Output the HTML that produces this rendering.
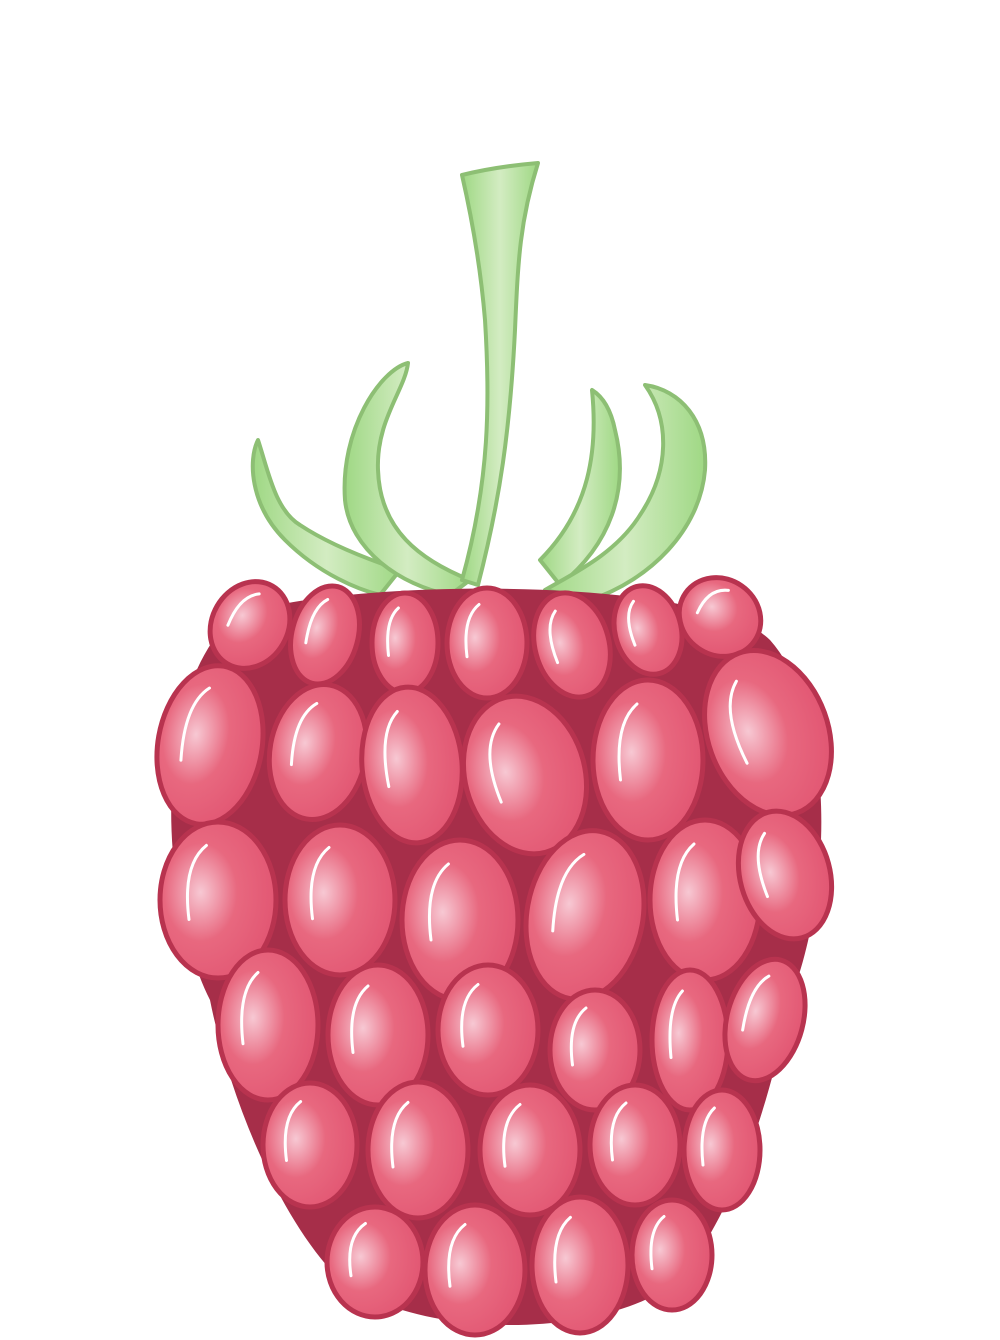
<!DOCTYPE html>
<html><head><meta charset="utf-8"><style>
html,body{margin:0;padding:0;background:#fff;width:1000px;height:1340px;overflow:hidden}
</style></head><body>
<svg width="1000" height="1340" viewBox="0 0 1000 1340">
<defs>
<radialGradient id="dg" cx="0.35" cy="0.45" r="0.7">
<stop offset="0" stop-color="#f7c8d3"/><stop offset="0.45" stop-color="#e8687f"/><stop offset="1" stop-color="#e15471"/>
</radialGradient>
<linearGradient id="gg" x1="0" y1="0" x2="1" y2="0">
<stop offset="0" stop-color="#9fd884"/><stop offset="0.5" stop-color="#d3ecc2"/><stop offset="1" stop-color="#9fd884"/>
</linearGradient>
</defs>
<g fill="url(#gg)" stroke="#8dbf74" stroke-width="4" stroke-linejoin="round">
<path d="M258,440 C248,460 250,505 285,540 C320,575 360,590 380,595 L400,570 C370,560 330,545 300,525 C275,510 268,470 258,440 Z"/>
<path d="M408,363 C380,370 340,430 345,500 C350,550 400,585 450,595 L470,580 C420,560 380,530 378,470 C376,420 405,390 408,363 Z"/>
<path d="M592,390 C598,450 590,510 540,560 L560,585 C610,545 630,490 615,430 C610,405 600,395 592,390 Z"/>
<path d="M645,385 C670,420 670,470 640,515 C615,555 570,575 545,590 L590,600 C650,580 700,530 705,470 C708,420 680,390 645,385 Z"/>
<path d="M462,175 C490,168 515,165 538,163 C520,220 518,260 515,330 C510,430 500,500 478,585 L462,580 C490,480 490,400 485,320 C480,260 470,210 462,175 Z"/>
</g>
<path d="M230,620 C300,580 700,570 770,640 C840,720 830,900 790,1000 C770,1100 740,1200 680,1280 C600,1340 420,1340 340,1280 C280,1220 230,1100 210,1000 C160,900 150,700 230,620 Z" fill="#a62e49"/>
<g id="drupes"></g>
</svg>
<script>
const drupeCx=[250,325,405,487,572,648,720,210,318,412,525,648,768,218,340,460,585,705,785,268,378,488,595,690,765,310,418,530,635,722,375,475,580,672];
const drupeCy=[625,635,643,643,645,630,617,745,752,765,775,760,733,900,900,920,915,900,875,1025,1035,1030,1050,1040,1020,1145,1150,1150,1145,1150,1262,1270,1265,1255];
const drupeRx=[38,33,33,40,37,33,42,52,48,50,60,55,60,58,55,58,58,55,45,50,50,50,45,38,38,47,50,50,45,38,48,50,48,40];
const drupeRy=[45,50,50,55,53,45,38,80,68,78,80,80,85,78,75,80,85,80,65,75,70,65,60,70,62,62,68,65,60,60,55,65,68,55];
const drupeRot=[30,15,0,0,-15,-15,35,10,10,-5,-15,0,-20,0,0,0,10,0,-15,0,0,0,0,0,15,0,0,0,0,0,0,0,0,0];
const g=document.getElementById('drupes');
const NS='http://www.w3.org/2000/svg';
for(let i=0;i<drupeCx.length;i++){
  const grp=document.createElementNS(NS,'g');
  
  
  grp.setAttribute('transform','translate('+drupeCx[i]+','+drupeCy[i]+') rotate('+drupeRot[i]+')');
  const e=document.createElementNS(NS,'ellipse');
  e.setAttribute('rx',drupeRx[i]);e.setAttribute('ry',drupeRy[i]);
  e.setAttribute('fill','url(#dg)');e.setAttribute('stroke','#b8334f');e.setAttribute('stroke-width','5');
  grp.appendChild(e);
  const h=document.createElementNS(NS,'path');
  const rx=drupeRx[i],ry=drupeRy[i];
  h.setAttribute('d','M'+(-rx*0.5)+','+(ry*0.25)+' Q'+(-rx*0.62)+','+(-ry*0.45)+' '+(-rx*0.2)+','+(-ry*0.7));
  h.setAttribute('fill','none');h.setAttribute('stroke','#fff');h.setAttribute('stroke-width','3');h.setAttribute('stroke-linecap','round');
  grp.appendChild(h);
  g.appendChild(grp);
}
</script>
</body></html>
